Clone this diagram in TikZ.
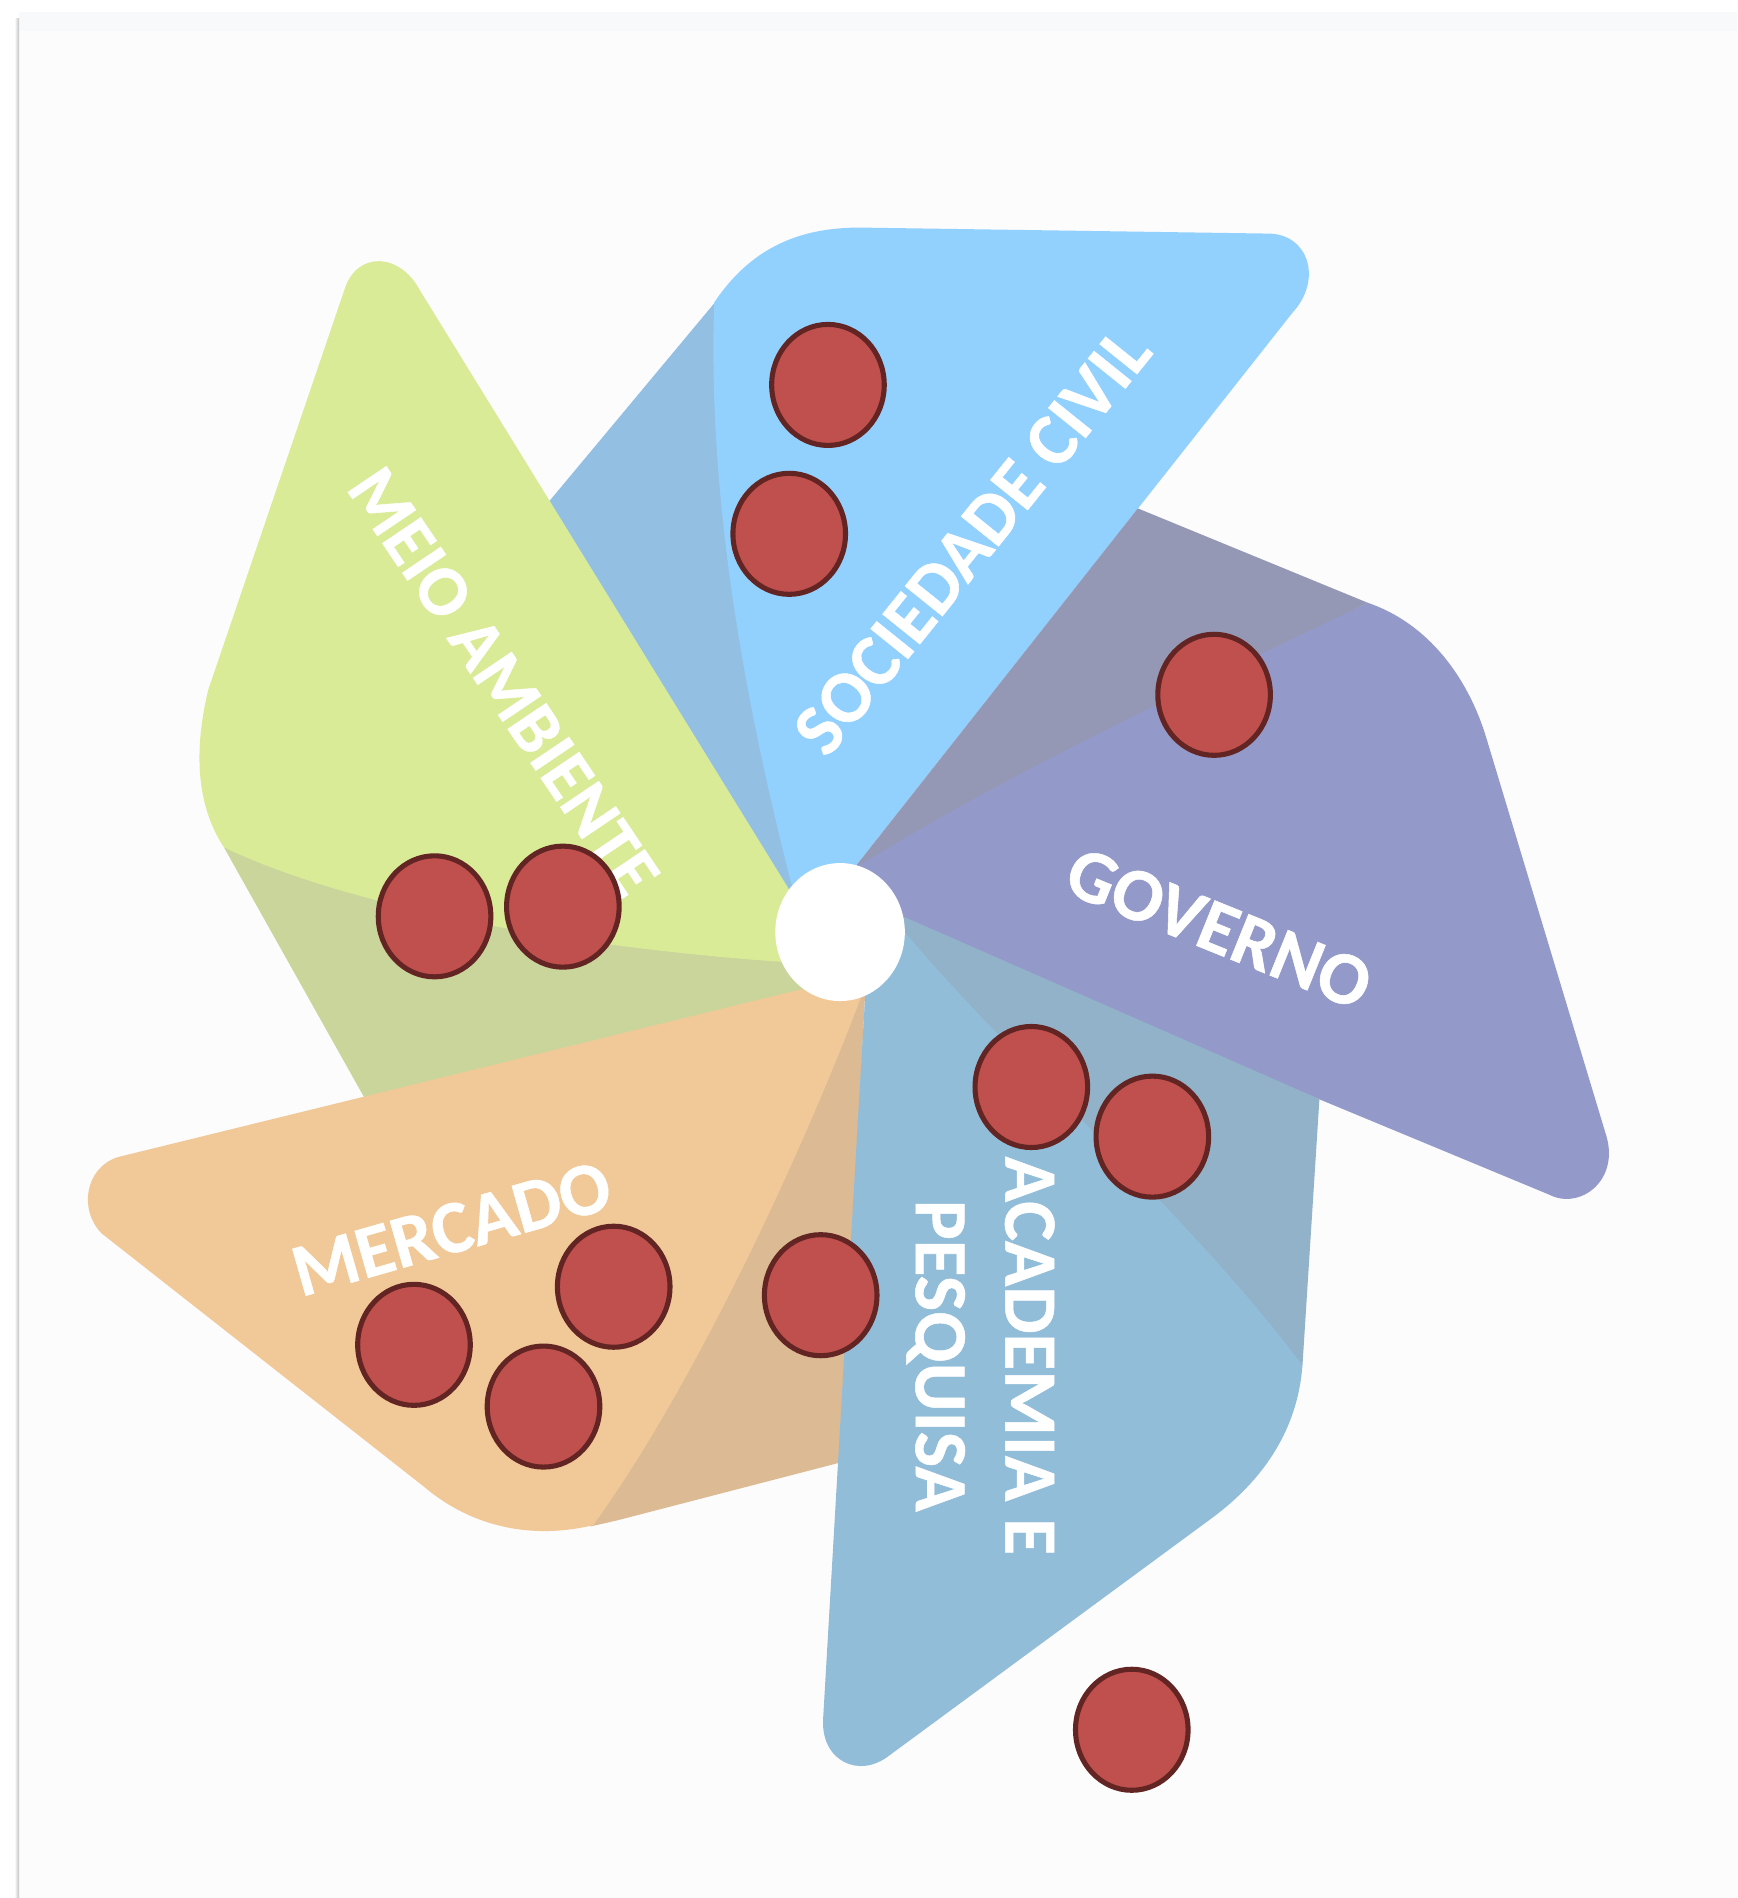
\documentclass[tikz,border=0pt]{standalone}
\usepackage{fontspec}
\setmainfont{Carlito}[BoldFeatures={FakeBold=0.7}]
\usetikzlibrary{shapes.geometric}

\definecolor{paper}{HTML}{FCFCFD}
\definecolor{paperstrip}{HTML}{F8F9FB}
\definecolor{greenlight}{HTML}{DAEB98}
\definecolor{greendark}{HTML}{C9D59B}
\definecolor{skylight}{HTML}{92D1FE}
\definecolor{skydark}{HTML}{93BFE3}
\definecolor{violetlight}{HTML}{9399C8}
\definecolor{violetdark}{HTML}{9598B5}
\definecolor{tealight}{HTML}{92BDD9}
\definecolor{teadark}{HTML}{91B2C8}
\definecolor{orangelight}{HTML}{F1C998}
\definecolor{orangedark}{HTML}{DBBA94}
\definecolor{redfill}{HTML}{C0504D}
\definecolor{redline}{HTML}{632523}

\tikzset{
  redmark/.style={ellipse,draw=redline,fill=redfill,line width=4.2pt,minimum width=93pt,minimum height=100pt,inner sep=0pt},
  petal/.style={font=\bfseries\fontsize{62}{74}\selectfont,text=white,inner sep=0pt,align=center}
}

\begin{document}
\begin{tikzpicture}[x=1pt,y=-1pt]
  \useasboundingbox (0,0) rectangle (1435,1568);

  % sheet
  \fill[paper] (15.7,10) rectangle (1435,1568);
  \fill[paperstrip] (15.7,10) rectangle (1435,25.6);
  \shade[left color=white,right color=black!25] (12,15) rectangle (15.7,1568);

  % meio ambiente
  \fill[greendark] (185,700) -- (300,905) -- (310,920) -- (700,830) -- (700,780) -- cycle;
  % sociedade civil, back
  \fill[skydark] (598,241) -- (453,415) -- (480,500) -- (640,760) -- (670,740) -- cycle;
  \fill[greenlight] (285,238) .. controls (295,208) and (330,208) .. (347,240)
    -- (652,735) -- (652,795)
    .. controls (500,785) and (300,755) .. (185,700)
    .. controls (162,665) and (160,620) .. (172,570) -- cycle;

  % sociedade civil
  \fill[skylight] (710,188) -- (1050,193)
    .. controls (1082,195) and (1092,232) .. (1068,258)
    -- (705,718) -- (655,735)
    .. controls (610,560) and (585,400) .. (590,250)
    .. controls (620,205) and (660,188) .. (710,188) -- cycle;

  % governo
  \fill[violetdark] (940,420) -- (1130,498) -- (705,718) -- cycle;
  \fill[violetlight] (705,718)
    .. controls (830,640) and (980,570) .. (1130,498)
    .. controls (1180,515) and (1213,560) .. (1228,610)
    -- (1326,935)
    .. controls (1340,975) and (1305,1000) .. (1280,987)
    -- (745,765) -- cycle;

  % academia e pesquisa
  \fill[teadark] (730,750) -- (1090,908) -- (1076,1128) -- (900,1000) -- cycle;
  \fill[orangedark] (715,815) -- (695,1208) -- (510,1256) -- (488,1261) -- (470,1250) -- (600,1000) -- cycle;
  \fill[tealight] (715,818) -- (745,767)
    .. controls (830,870) and (980,1000) .. (1076,1128)
    .. controls (1072,1180) and (1045,1222) .. (1000,1255)
    -- (735,1450)
    .. controls (710,1470) and (678,1455) .. (680,1420) -- cycle;

  % mercado
  \fill[orangelight] (97,956) -- (712,805) -- (712,822)
    .. controls (660,960) and (570,1150) .. (490,1260)
    .. controls (440,1272) and (390,1262) .. (350,1228)
    -- (84,1019)
    .. controls (65,1000) and (70,965) .. (97,956) -- cycle;

  % centre of the wheel
  \node[ellipse,fill=white,minimum width=107pt,minimum height=114pt,inner sep=0pt] (hub) at (694,770) {};

  \node[petal,rotate=51.2,font=\bfseries\fontsize{61}{74}\selectfont] (soc) at (803,447) {SOCIEDADE CIVIL};
  \node[petal,rotate=-56,font=\bfseries\fontsize{59}{74}\selectfont] (meio) at (416,563) {MEIO AMBIENTE};
  \node[petal,rotate=-22] (gov) at (1007,767) {GOVERNO};
  \node[petal,rotate=16] (merc) at (373,1015) {MERCADO};
  \node[petal,rotate=-90] (acad) at (810,1120) {ACADEMIA E\\PESQUISA};

  \node[redmark] (soca) at (684,318) {};
  \node[redmark] (socb) at (652,441) {};
  \node[redmark] (gova) at (1003,574) {};
  \node[redmark] (meioa) at (359,757) {};
  \node[redmark] (meiob) at (465,749) {};
  \node[redmark] (acada) at (852,898) {};
  \node[redmark] (acadb) at (952,939) {};
  \node[redmark] (acadc) at (678,1070) {};
  \node[redmark] (acadd) at (935,1429) {};
  \node[redmark] (merca) at (342,1111) {};
  \node[redmark] (mercb) at (507,1063) {};
  \node[redmark] (mercc) at (449,1162) {};
\end{tikzpicture}
\end{document}
